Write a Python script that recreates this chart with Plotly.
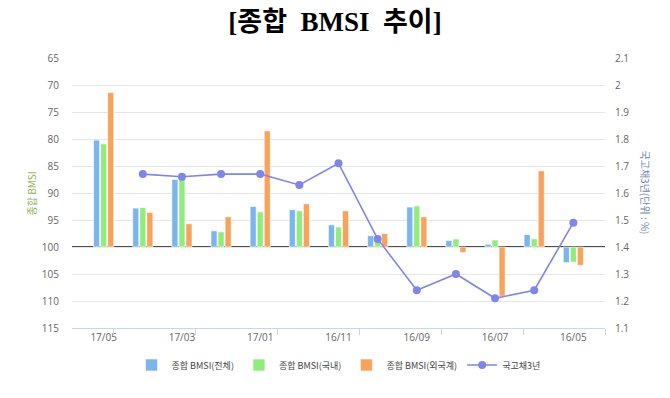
import plotly.graph_objects as go

categories = ["17/05", "17/04", "17/03", "17/02", "17/01", "16/12", "16/11",
              "16/10", "16/09", "16/08", "16/07", "16/06", "16/05"]
bmsi_total = [80.2, 92.8, 87.5, 97.0, 92.5, 93.1, 95.9, 97.9, 92.6, 98.8, 99.5, 97.7, 102.9]
bmsi_domestic = [80.9, 92.7, 87.1, 97.2, 93.5, 93.3, 96.3, 98.1, 92.4, 98.5, 98.7, 98.5, 102.8]
bmsi_foreign = [71.4, 93.6, 95.7, 94.4, 78.5, 92.0, 93.3, 97.5, 94.4, 101.0, 109.1, 85.9, 103.4]
ktb_3y = [None, 1.67, 1.66, 1.67, 1.67, 1.63, 1.71, 1.43, 1.24, 1.30, 1.21, 1.24, 1.49]

BASE = 100
shown_labels = categories[::2]

series = [
    ("종합 BMSI(전체)", bmsi_total, "#7cb5ec"),
    ("종합 BMSI(국내)", bmsi_domestic, "#90ed7d"),
    ("종합 BMSI(외국계)", bmsi_foreign, "#f7a35c"),
]

fig = go.Figure()
for name, vals, col in series:
    fig.add_trace(go.Bar(
        x=categories, y=[v - BASE for v in vals], base=BASE, name=name,
        marker=dict(color=col, line=dict(color="white", width=0.6)),
        xaxis="x", yaxis="y",
    ))

fig.add_trace(go.Scatter(
    x=categories, y=ktb_3y, name="국고채3년", mode="lines+markers",
    line=dict(color="#8085e9", width=1.6),
    marker=dict(color="#8085e9", size=8),
    xaxis="x", yaxis="y2", connectgaps=False,
))

tick_font = dict(family="Open Sans, Noto Sans CJK KR", size=10, color="#666666")

fig.update_layout(
    width=670, height=398,
    margin=dict(l=72, r=65, t=58, b=70, autoexpand=False),
    paper_bgcolor="white", plot_bgcolor="white",
    barmode="group", bargap=0.46, bargroupgap=0.14,
    showlegend=True,
    title=dict(text="[종합  BMSI  추이]", x=0.5, xanchor="center", y=0.945, yanchor="middle",
               font=dict(family="Liberation Serif, Noto Sans CJK KR", size=27, color="black",
                         weight="bold")),
    legend=dict(orientation="h", x=0.5, xanchor="center", y=-0.137, yanchor="middle",
                font=dict(family="Noto Sans CJK KR", size=9, color="#444444"),
                itemwidth=30, tracegroupgap=0, bgcolor="rgba(0,0,0,0)"),
    xaxis=dict(type="category", categoryorder="array", categoryarray=categories,
               tickvals=shown_labels, ticks="", showgrid=False, automargin=False,
               showline=True, linecolor="#ccd6eb", linewidth=1,
               tickfont=tick_font, zeroline=False, fixedrange=True),
    xaxis2=dict(overlaying="x", anchor="y", side="bottom", range=[-0.5, 12.5],
                tickvals=[i + 0.5 for i in range(0, 13, 2)], ticks="outside",
                ticklen=6, tickcolor="#ccd6eb", showticklabels=False, automargin=False,
                showgrid=False, zeroline=False, showline=False),
    yaxis=dict(range=[115, 65], dtick=5, tick0=65, showgrid=True, gridcolor="#e6e6e6",
               zeroline=False, tickfont=tick_font, ticks="", automargin=False,
               ticklabelstandoff=12),
    yaxis2=dict(range=[1.1, 2.1], dtick=0.1, tick0=1.1, overlaying="y", side="right",
                showgrid=False, zeroline=False, tickfont=tick_font, ticks="",
                tickformat="~g", automargin=False, ticklabelstandoff=9),
    annotations=[
        dict(text="종합 BMSI", xref="paper", yref="paper",
             x=-0.076, y=0.5, xanchor="center", yanchor="middle", textangle=-90,
             showarrow=False,
             font=dict(family="Noto Sans CJK KR", size=10, color="#8fb35a")),
        dict(text="국고채3년(단위 : %)", xref="paper", yref="paper",
             x=1.06, y=0.5, xanchor="left", yanchor="middle", textangle=90,
             showarrow=False,
             font=dict(family="Noto Sans CJK KR", size=10, color="#6f86b0")),
    ],
    shapes=[dict(type="line", xref="paper", yref="y", x0=0, x1=1, y0=BASE, y1=BASE,
                 line=dict(color="#111111", width=1.3), layer="below")],
)

fig.add_trace(go.Scatter(x=[None], y=[None], xaxis="x2", yaxis="y", showlegend=False,
                         hoverinfo="skip"))

fig.write_html("out.html", config={"displayModeBar": False},
               post_script="document.body.style.margin='0';document.body.style.overflow='hidden';")
